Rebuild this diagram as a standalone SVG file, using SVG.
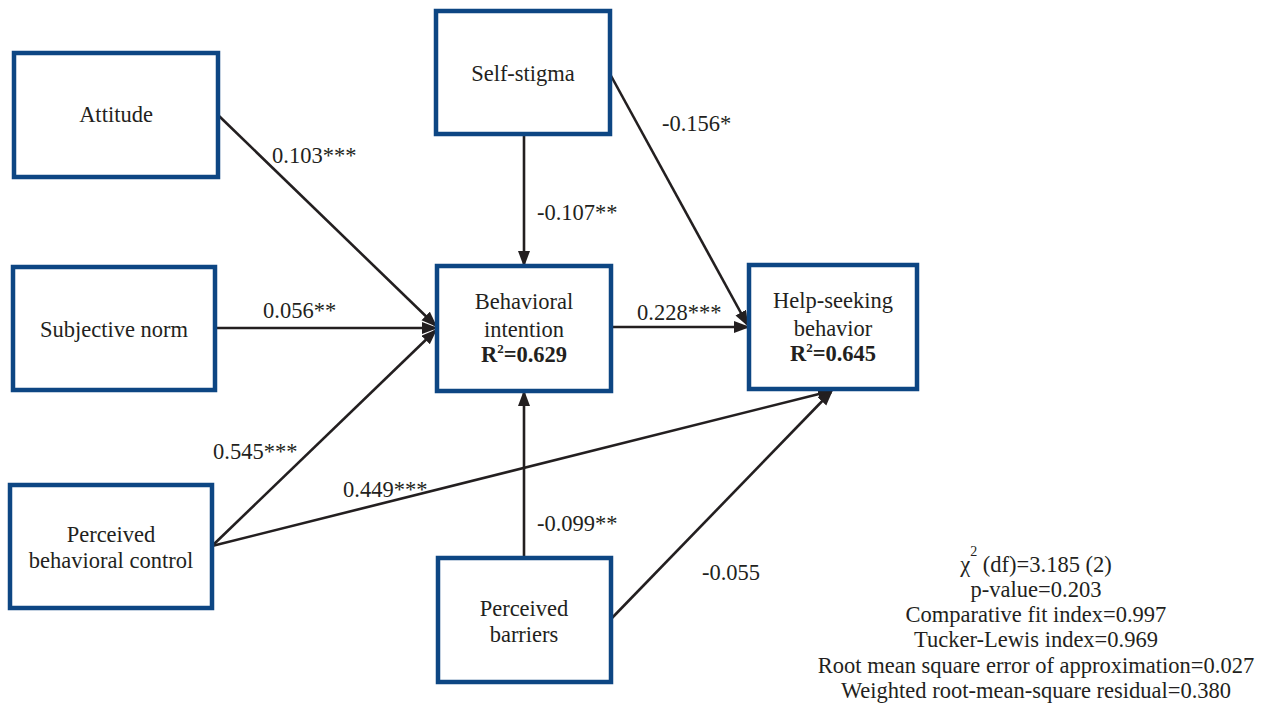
<svg xmlns="http://www.w3.org/2000/svg" width="1261" height="705" viewBox="0 0 1261 705" font-family="Liberation Serif, Times New Roman, serif">
<style>
.box{fill:#fff;stroke:#0d4683;stroke-width:4.5}
.t{font-size:22.5px;fill:#231f20;text-anchor:middle}
.b{font-weight:bold}
.lb{font-size:22.5px;fill:#231f20}
.c{fill:none;stroke:#231f20;stroke-width:2.6}
</style>
<defs>
<marker id="ah" markerUnits="userSpaceOnUse" markerWidth="17" markerHeight="13" refX="13" refY="6" orient="auto">
<path d="M0,0 L16,6 L0,12 z" fill="#231f20"/>
</marker>
</defs>
<rect width="1261" height="705" fill="#fff"/>
<g id="connectors">
<path class="c" d="M218,115 L435,325" marker-end="url(#ah)"/>
<path class="c" d="M216,328 L435,328" marker-end="url(#ah)"/>
<path class="c" d="M212,546 L435,331" marker-end="url(#ah)"/>
<path class="c" d="M212,546 L831,391" marker-end="url(#ah)"/>
<path class="c" d="M524,134 L524,264" marker-end="url(#ah)"/>
<path class="c" d="M610,74 L747,324" marker-end="url(#ah)"/>
<path class="c" d="M611,327 L747,327" marker-end="url(#ah)"/>
<path class="c" d="M524,557 L524,393" marker-end="url(#ah)"/>
<path class="c" d="M611,619 L831,392" marker-end="url(#ah)"/>
<text class="lb" x="272" y="163">0.103***</text>
<text class="lb" x="263" y="318">0.056**</text>
<text class="lb" x="213" y="459">0.545***</text>
<text class="lb" x="343" y="497">0.449***</text>
<text class="lb" x="537" y="220">-0.107**</text>
<text class="lb" x="662" y="131">-0.156*</text>
<text class="lb" x="637" y="320">0.228***</text>
<text class="lb" x="537" y="531">-0.099**</text>
<text class="lb" x="702" y="580">-0.055</text>
</g>
<g id="attitude">
<rect class="box" x="14" y="53" width="204" height="124"/>
<text class="t" x="116" y="122">Attitude</text>
</g>
<g id="self-stigma">
<rect class="box" x="436" y="11" width="174" height="123"/>
<text class="t" x="523" y="81">Self-stigma</text>
</g>
<g id="subjective-norm">
<rect class="box" x="13" y="267" width="202" height="123"/>
<text class="t" x="114" y="337">Subjective norm</text>
</g>
<g id="behavioral-intention">
<rect class="box" x="437" y="266" width="174" height="125"/>
<text class="t" x="524" y="309">Behavioral</text>
<text class="t" x="524" y="337">intention</text>
<text class="t b" x="524" y="362">R<tspan font-size="13" dy="-9">2</tspan><tspan dy="9">=0.629</tspan></text>
</g>
<g id="help-seeking-behavior">
<rect class="box" x="749" y="265" width="168" height="124"/>
<text class="t" x="833" y="308">Help-seeking</text>
<text class="t" x="833" y="336">behavior</text>
<text class="t b" x="833" y="361">R<tspan font-size="13" dy="-9">2</tspan><tspan dy="9">=0.645</tspan></text>
</g>
<g id="perceived-behavioral-control">
<rect class="box" x="10" y="485" width="202" height="123"/>
<text class="t" x="111" y="542">Perceived</text>
<text class="t" x="111" y="568">behavioral control</text>
</g>
<g id="perceived-barriers">
<rect class="box" x="438" y="558" width="173" height="124"/>
<text class="t" x="524" y="616">Perceived</text>
<text class="t" x="524" y="642">barriers</text>
</g>
<g id="fit-statistics">
<text class="t" x="1036" y="572">χ<tspan font-size="14" dy="-16">2</tspan><tspan dy="16"> (df)=3.185 (2)</tspan></text>
<text class="t" x="1036" y="597">p-value=0.203</text>
<text class="t" x="1036" y="622">Comparative fit index=0.997</text>
<text class="t" x="1036" y="647">Tucker-Lewis index=0.969</text>
<text class="t" x="1036" y="673">Root mean square error of approximation=0.027</text>
<text class="t" x="1036" y="698">Weighted root-mean-square residual=0.380</text>
</g>
</svg>
